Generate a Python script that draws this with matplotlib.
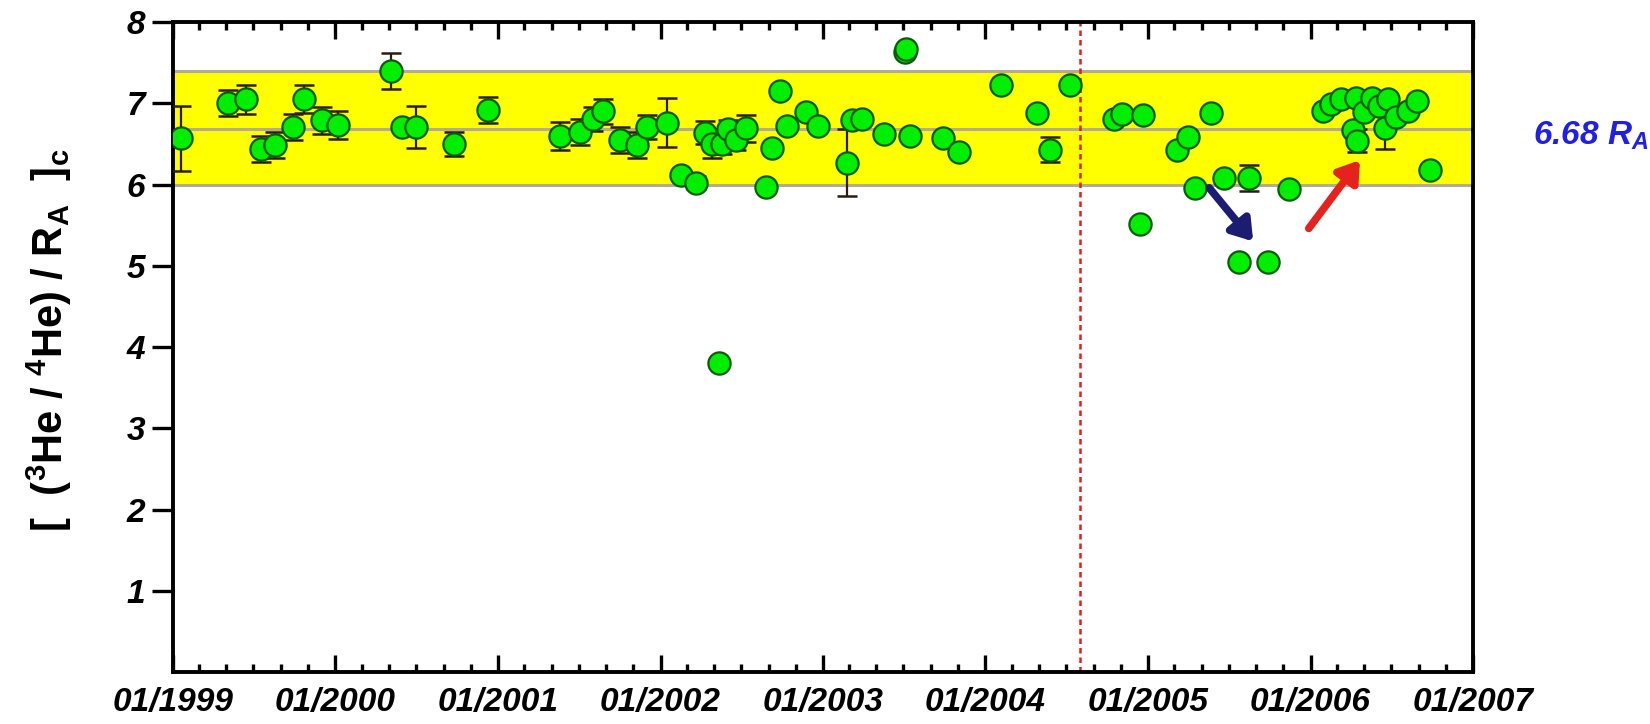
import matplotlib
matplotlib.use("Agg")
import matplotlib.pyplot as plt
import matplotlib.dates as mdates
import numpy as np
import pandas as pd

plt.rcParams["font.family"] = ["Liberation Sans", "DejaVu Sans"]
plt.rcParams["mathtext.fontset"] = "custom"
plt.rcParams["mathtext.rm"] = "Liberation Sans"
plt.rcParams["mathtext.bf"] = "Liberation Sans:bold"
plt.rcParams["mathtext.it"] = "Liberation Sans:italic"
if "mathtext.bfit" in plt.rcParams:
    plt.rcParams["mathtext.bfit"] = "Liberation Sans:bold:italic"

# ── corrected 3He/4He ratios (R/RA) ─────────────────────────────
DATES = [
    "1999-01-19", "1999-05-05", "1999-06-14", "1999-07-17", "1999-08-19",
    "1999-09-28", "1999-10-23", "1999-12-02", "2000-01-08", "2000-05-05",
    "2000-05-30", "2000-07-01", "2000-09-24", "2000-12-10", "2001-05-19",
    "2001-07-05", "2001-08-03", "2001-08-25", "2001-10-01", "2001-11-10",
    "2001-12-02", "2002-01-15", "2002-02-17", "2002-03-21", "2002-04-12",
    "2002-04-27", "2002-05-12", "2002-05-19", "2002-06-02", "2002-06-20",
    "2002-07-12", "2002-08-25", "2002-09-09", "2002-09-27", "2002-10-12",
    "2002-11-25", "2002-12-20", "2003-02-24", "2003-03-07", "2003-03-29",
    "2003-05-19", "2003-07-05", "2003-07-06", "2003-07-16", "2003-09-28",
    "2003-11-03", "2004-02-06", "2004-04-27", "2004-05-26", "2004-07-09",
    "2004-10-16", "2004-11-03", "2004-12-13", "2004-12-20", "2005-03-07",
    "2005-04-01", "2005-04-16", "2005-05-22", "2005-06-21", "2005-07-24",
    "2005-08-15", "2005-09-27", "2005-11-14", "2006-01-30", "2006-02-17",
    "2006-03-11", "2006-04-06", "2006-04-13", "2006-04-15", "2006-05-01",
    "2006-05-19", "2006-06-03", "2006-06-18", "2006-06-25", "2006-07-13",
    "2006-08-08", "2006-08-29", "2006-09-27",
]
RATIO = [
    6.57, 7.00, 7.05, 6.44, 6.49,
    6.71, 7.05, 6.79, 6.73, 7.40,
    6.71, 6.71, 6.50, 6.92, 6.60,
    6.65, 6.81, 6.90, 6.55, 6.49,
    6.71, 6.76, 6.12, 6.02, 6.64,
    6.50, 3.80, 6.50, 6.68, 6.55,
    6.69, 5.97, 6.45, 7.15, 6.72,
    6.89, 6.72, 6.27, 6.79, 6.81,
    6.62, 7.63, 7.67, 6.60, 6.57,
    6.40, 7.22, 6.88, 6.43, 7.22,
    6.81, 6.87, 5.52, 6.85, 6.42,
    6.58, 5.96, 6.88, 6.08, 5.05,
    6.08, 5.05, 5.94, 6.91, 6.99,
    7.05, 6.67, 7.07, 6.54, 6.89,
    7.07, 6.97, 6.69, 7.05, 6.83,
    6.91, 7.03, 6.18,
]
ERROR = [
    0.40, 0.16, 0.18, 0.16, 0.16,
    0.16, 0.17, 0.17, 0.17, 0.22,
    0.00, 0.26, 0.15, 0.16, 0.17,
    0.16, 0.15, 0.15, 0.16, 0.16,
    0.15, 0.30, 0.00, 0.08, 0.14,
    0.17, 0.00, 0.12, 0.12, 0.12,
    0.17, 0.00, 0.00, 0.00, 0.00,
    0.00, 0.00, 0.41, 0.00, 0.00,
    0.00, 0.05, 0.05, 0.00, 0.00,
    0.00, 0.00, 0.00, 0.15, 0.00,
    0.00, 0.00, 0.00, 0.00, 0.00,
    0.00, 0.00, 0.06, 0.00, 0.00,
    0.16, 0.00, 0.00, 0.00, 0.00,
    0.00, 0.00, 0.00, 0.14, 0.00,
    0.00, 0.00, 0.25, 0.00, 0.00,
    0.00, 0.00, 0.00,
]

BAND_LOW, BAND_MEAN, BAND_HIGH = 6.0, 6.68, 7.4
EVENT_DATE = "2004-08-01"
X_START, X_END = "1999-01-01", "2007-01-01"


def dnum(s):
    return mdates.date2num(pd.Timestamp(s))


# ── plot ─────────────────────────────────────────────────────────
t = mdates.date2num(pd.to_datetime(DATES))
ratio = np.array(RATIO)
err = np.array(ERROR)

fig = plt.figure(figsize=(16.5, 7.24), dpi=100)
ax = fig.add_axes([0.1048, 0.0718, 0.7879, 0.8978])

ax.axhspan(BAND_LOW, BAND_HIGH, color="#ffff00", lw=0, zorder=0)
for level in (BAND_LOW, BAND_MEAN, BAND_HIGH):
    ax.axhline(level, color="#b3ab98", lw=2.2, zorder=1)

ax.axvline(dnum(EVENT_DATE), color="#e0201c", lw=1.8, ls=(0, (2.2, 1.6)), zorder=2)

has_err = err > 0
ax.errorbar(t[has_err], ratio[has_err], yerr=err[has_err], fmt="none",
            ecolor="#2a1c10", elinewidth=1.6, capsize=7, capthick=1.8, zorder=3)
ax.plot(t, ratio, "o", ls="none", ms=16, mfc="#00ee00", mec="#0a5a0a",
        mew=1.6, zorder=4)


# arrows marking the 2005 drop and the 2006 recovery
def arrow(start, end, color):
    ax.annotate("", xy=(dnum(end[0]), end[1]), xytext=(dnum(start[0]), start[1]),
                arrowprops=dict(arrowstyle="-|>,head_length=1.2,head_width=0.8",
                                color=color, lw=5.5, shrinkA=0, shrinkB=0),
                zorder=5)


arrow(("2005-05-18", 5.96), ("2005-08-25", 5.30), "#1c1c72")
arrow(("2005-12-28", 5.46), ("2006-04-22", 6.30), "#e5221d")

ax.annotate(r"6.68 $\mathbfit{R}_{\mathbfit{A}}$", xy=(1.046, 6.60),
            xycoords=("axes fraction", "data"), ha="left", va="center",
            color="#1f1fe6", fontsize=24, fontweight="bold", fontstyle="italic")

ax.set_xlim(dnum(X_START), dnum(X_END))
ax.set_ylim(0, 8)

ax.xaxis.set_major_locator(mdates.YearLocator())
ax.xaxis.set_major_formatter(mdates.DateFormatter("%m/%Y"))
ax.xaxis.set_minor_locator(mdates.MonthLocator(bymonth=[3, 5, 7, 9, 11]))
ax.tick_params(axis="x", which="both", direction="in", top=True, bottom=True,
               width=2.4, pad=11)
ax.tick_params(axis="x", which="major", length=12)
ax.tick_params(axis="x", which="minor", length=6)
ax.set_yticks(range(1, 9))
ax.tick_params(axis="y", direction="out", left=True, right=False,
               length=15, width=2.4, pad=5)

for lab in ax.get_xticklabels() + ax.get_yticklabels():
    lab.set_fontweight("bold")
    lab.set_fontstyle("italic")
    lab.set_fontsize(24)

ax.set_ylabel(r"$\mathbf{[\ \ (^{3}He\ /\ ^{4}He)\ /\ R_{A}\ \ ]_{c}}$",
              fontsize=30)
ax.yaxis.set_label_coords(-0.076, 0.51)

for spine in ax.spines.values():
    spine.set_linewidth(2.8)
    spine.set_color("black")

fig.savefig("out.png", dpi=100, facecolor="white")
plt.close(fig)
